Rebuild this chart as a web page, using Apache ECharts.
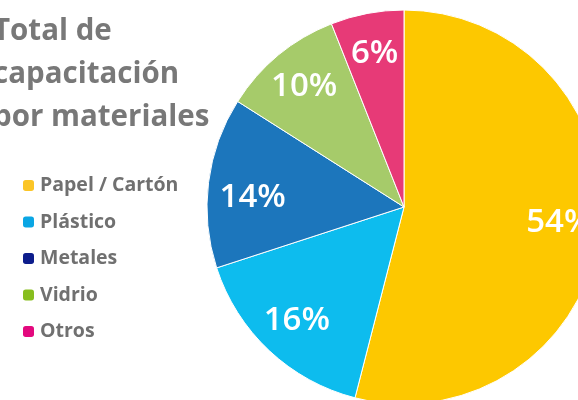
<!DOCTYPE html>
<html>
<head>
<meta charset="utf-8">
<script src="https://cdn.jsdelivr.net/npm/echarts@6/dist/echarts.min.js"></script>
<style>html,body{margin:0;padding:0;background:#fff;}#c{width:578px;height:400px;}</style>
</head>
<body>
<div id="c"></div>
<script>
const categories = ['Papel / Cartón', 'Plástico', 'Metales', 'Vidrio', 'Otros'];
const values = [54, 16, 14, 10, 6];
const sliceColors = ['#FDC800', '#0DBCEE', '#1C76BC', '#A6CB6A', '#E73A77'];
const legendColors = ['#FBC526', '#0AA6E4', '#0D1D8C', '#87BE1E', '#E3097E'];
const titleText = 'Total de\ncapacitación\npor materiales';

const chart = echarts.init(document.getElementById('c'), null, {renderer: 'canvas'});
const data = categories.map((n, i) => ({name: n, value: values[i], itemStyle: {color: sliceColors[i]}}));
chart.setOption({
  animation: false,
  graphic: [{
    type: 'text', left: -7, top: 10, silent: true,
    style: {text: titleText, fontFamily: 'Open Sans', fontWeight: 'bold', fontSize: 29.5, lineHeight: 43, fill: '#787878'}
  }],
  legend: {
    orient: 'vertical', left: 18, top: 170,
    icon: 'roundRect', itemWidth: 11, itemHeight: 11, itemGap: 15.5,
    textStyle: {fontFamily: 'Open Sans', fontWeight: 'bold', fontSize: 19.5, lineHeight: 21, color: '#707070', padding: [0,0,0,1]},
    data: categories.map((n, i) => ({name: n, itemStyle: {color: legendColors[i], borderWidth: 0}}))
  },
  series: [{
    type: 'pie', center: [404, 207], radius: 197, startAngle: 90, clockwise: true,
    label: {show: false}, labelLine: {show: false},
    itemStyle: {borderColor: '#fff', borderWidth: 1},
    emphasis: {disabled: true},
    data: data
  }, {
    type: 'pie', center: [404, 207], radius: [110, 197], startAngle: 90, clockwise: true,
    silent: true, legendHoverLink: false,
    itemStyle: {color: 'rgba(0,0,0,0)'},
    label: {show: true, position: 'inside', formatter: '{c}%', color: '#fff', fontFamily: 'Open Sans', fontSize: 33, fontWeight: 600},
    labelLine: {show: false},
    emphasis: {disabled: true},
    data: categories.map((n, i) => ({
      name: n + ' ', value: values[i],
      label: i === 2 ? {offset: [4, 10]} : (i === 0 ? {offset: [0, -4]} : {})
    }))
  }]
});
</script>
</body>
</html>
